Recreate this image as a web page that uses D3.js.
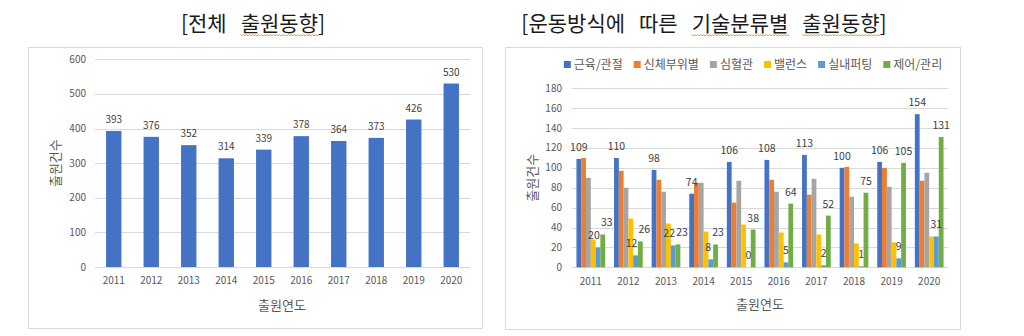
<!DOCTYPE html>
<html><head><meta charset="utf-8">
<script src="https://cdn.jsdelivr.net/npm/d3@7"></script>
<style>
body{margin:0;background:#fff;}
svg{font-family:"Noto Sans CJK KR","Noto Sans",sans-serif;display:block;}
</style></head><body>
<svg id="c" width="1024" height="336"></svg>
<script>
// ---------- data ----------
const years = ["2011","2012","2013","2014","2015","2016","2017","2018","2019","2020"];
const totalFilings = [393,376,352,314,339,378,364,373,426,530];
const totalTicks = [0,100,200,300,400,500,600];

const techCategories = ["근육/관절","신체부위별","심혈관","밸런스","실내퍼팅","제어/관리"];
const muscleJoint   = [109,110,98,74,106,108,113,100,106,154];
const bodyPart      = [110,97,88,85,65,88,73,101,100,87];
const cardio        = [90,80,76,85,87,76,89,71,81,95];
const balance       = [28,49,44,36,43,35,33,24,25,31];
const indoorPutting = [20,12,22,8,0,5,2,1,9,31];
const controlMgmt   = [33,26,23,23,38,64,52,75,105,131];
const techTicks = [0,20,40,60,80,100,120,140,160,180];
const labeledCategories = ["근육/관절","실내퍼팅","제어/관리"];

const leftTitleWords = ["[전체","출원동향]"];
const rightTitleWords = ["[운동방식에","따른","기술분류별","출원동향]"];
const leftUnderlined = ["출원동향]"];
const rightUnderlined = ["기술분류별","출원동향]"];
const yTitle = "출원건수";
const xTitle = "출원연도";

// ---------- styling ----------
const colors = ["#4472C4","#ED7D31","#A5A5A5","#FFC000","#5B9BD5","#70AD47"];
const techSeries = [muscleJoint,bodyPart,cardio,balance,indoorPutting,controlMgmt];
const grid = "#d9d9d9", tickCol = "#595959", labelCol = "#404040";

const svg = d3.select("#c");

// panels
svg.append("rect").attr("x",28.5).attr("y",47.5).attr("width",454).attr("height",281)
  .attr("fill","#fff").attr("stroke","#d9d9d9");
svg.append("rect").attr("x",505.5).attr("y",47.5).attr("width",455).attr("height",282)
  .attr("fill","#fff").attr("stroke","#d9d9d9");

// titles: each word a text element, laid out by measured width
function title(words, underlined, cx) {
  const gap = 14;
  const g = svg.append("g");
  const nodes = words.map(w => g.append("text").attr("y",31).attr("font-size",21)
    .attr("fill","#1a1a1a").text(w));
  const widths = nodes.map(n => n.node().getComputedTextLength());
  const total = d3.sum(widths) + gap*(words.length-1);
  let x = cx - total/2;
  nodes.forEach((n,i)=>{
    n.attr("x", x);
    if (underlined.includes(words[i])) {
      const w = words[i];
      const core = w.replace(/[\[\]]/g,"");
      const startOff = w.startsWith("[") ? n.node().getSubStringLength(0,1) : 0;
      const len = n.node().getSubStringLength(w.startsWith("[")?1:0, core.length);
      const s = x + startOff, e = s + len;
      const p = d3.path();
      const y0 = 34.5;
      p.moveTo(s, y0);
      let k = 0;
      for (let xx = s; xx < e; xx += 1.5, k++) p.lineTo(xx+1.5, y0 + (k%2 ? 0 : 1.5));
      g.append("path").attr("d", p.toString()).attr("fill","none")
        .attr("stroke","#d99a4e").attr("stroke-width",1);
    }
    x += widths[i] + gap;
  });
}
title(leftTitleWords, leftUnderlined, 253);
title(rightTitleWords, rightUnderlined, 704);

// ---------- left chart ----------
{
  const L = {x0:95, x1:470, y0:267, y1:59.3};
  const x = d3.scaleBand().domain(years).range([L.x0,L.x1]).paddingInner(0.59).paddingOuter(0.295);
  const y = d3.scaleLinear().domain([0,600]).range([L.y0,L.y1]);
  const g = svg.append("g");
  g.selectAll(".gl").data(totalTicks).join("line")
    .attr("x1",L.x0).attr("x2",L.x1).attr("y1",d=>Math.round(y(d))+0.5).attr("y2",d=>Math.round(y(d))+0.5)
    .attr("stroke",grid).attr("stroke-width",1);
  g.selectAll(".yt").data(totalTicks).join("text")
    .attr("x",86).attr("y",d=>y(d)).attr("dy","0.35em").attr("text-anchor","end")
    .attr("font-size",10).attr("fill",tickCol).text(d=>d);
  g.selectAll(".bar").data(totalFilings).join("rect")
    .attr("x",(d,i)=>x(years[i])).attr("width",x.bandwidth())
    .attr("y",d=>y(d)).attr("height",d=>y(0)-y(d)).attr("fill",colors[0]);
  g.selectAll(".lb").data(totalFilings).join("text")
    .attr("x",(d,i)=>x(years[i])+x.bandwidth()/2).attr("y",d=>y(d)-8)
    .attr("text-anchor","middle").attr("font-size",10).attr("fill",labelCol).text(d=>d);
  g.selectAll(".xt").data(years).join("text")
    .attr("x",d=>x(d)+x.bandwidth()/2).attr("y",284).attr("text-anchor","middle")
    .attr("font-size",10).attr("fill",tickCol).text(d=>d);
  g.append("text").attr("x",282).attr("y",310).attr("text-anchor","middle")
    .attr("font-size",13).attr("fill",tickCol).text(xTitle);
  g.append("text").attr("transform",`translate(55,${(L.y0+L.y1)/2}) rotate(-90)`)
    .attr("text-anchor","middle").attr("dy","0.35em")
    .attr("font-size",13).attr("fill",tickCol).text(yTitle);
}

// ---------- right chart ----------
{
  const R = {x0:572, x1:948, y0:267.3, y1:88.3};
  const x0 = d3.scaleBand().domain(years).range([R.x0,R.x1]).paddingInner(0.237).paddingOuter(0.1185);
  const x1 = d3.scaleBand().domain(techCategories).range([0,x0.bandwidth()]).padding(0);
  const y = d3.scaleLinear().domain([0,180]).range([R.y0,R.y1]);
  const g = svg.append("g");
  g.selectAll(".gl").data(techTicks).join("line")
    .attr("x1",R.x0).attr("x2",R.x1).attr("y1",d=>Math.round(y(d))+0.5).attr("y2",d=>Math.round(y(d))+0.5)
    .attr("stroke",grid).attr("stroke-width",1);
  g.selectAll(".yt").data(techTicks).join("text")
    .attr("x",562).attr("y",d=>y(d)).attr("dy","0.35em").attr("text-anchor","end")
    .attr("font-size",10).attr("fill",tickCol).text(d=>d);

  const flat = [];
  years.forEach((yr,i)=> techCategories.forEach((c,j)=> flat.push({yr,c,j,v:techSeries[j][i]})));
  g.selectAll(".bar").data(flat).join("rect")
    .attr("x",d=>x0(d.yr)+x1(d.c)).attr("width",x1.bandwidth())
    .attr("y",d=>y(d.v)).attr("height",d=>y(0)-y(d.v)).attr("fill",d=>colors[d.j]);
  const labels = g.selectAll(".lb").data(flat.filter(d=>labeledCategories.includes(d.c))).join("text")
    .attr("x",d=>x0(d.yr)+x1(d.c)+x1.bandwidth()/2).attr("y",d=>y(d.v)-8)
    .attr("text-anchor","middle").attr("font-size",10.5).attr("fill",labelCol).text(d=>d.v);

  // simple collision resolution between neighbouring labels of a year group
  years.forEach(yr=>{
    const ls = labels.filter(d=>d.yr===yr).nodes();
    for (let a=0; a<ls.length-1; a++) {
      const A = ls[a], B = ls[a+1];
      const ba = A.getBBox(), bb = B.getBBox();
      const vOverlap = ba.y < bb.y+bb.height && bb.y < ba.y+ba.height;
      const hOver = (ba.x+ba.width) - bb.x + 1;
      if (vOverlap && hOver > 0) {
        A.setAttribute("x", +A.getAttribute("x") - hOver/2);
        B.setAttribute("x", +B.getAttribute("x") + hOver/2);
      }
    }
  });

  g.selectAll(".xt").data(years).join("text")
    .attr("x",d=>x0(d)+x0.bandwidth()/2).attr("y",285).attr("text-anchor","middle")
    .attr("font-size",10).attr("fill",tickCol).text(d=>d);
  g.append("text").attr("x",760).attr("y",309).attr("text-anchor","middle")
    .attr("font-size",13).attr("fill",tickCol).text(xTitle);
  g.append("text").attr("transform",`translate(532,${(R.y0+R.y1)/2}) rotate(-90)`)
    .attr("text-anchor","middle").attr("dy","0.35em")
    .attr("font-size",13).attr("fill",tickCol).text(yTitle);

  // legend
  const lg = g.append("g");
  let cx = 0;
  techCategories.forEach((c,j)=>{
    const it = lg.append("g");
    it.append("rect").attr("x",0).attr("y",-4).attr("width",7).attr("height",7).attr("fill",colors[j]);
    const t = it.append("text").attr("x",10).attr("y",0).attr("dy","0.35em")
      .attr("font-size",12).attr("fill",tickCol).text(c);
    const w = 10 + t.node().getComputedTextLength();
    it.attr("transform",`translate(${cx},0)`);
    cx += w + 11;
  });
  const total = cx - 11;
  lg.attr("transform",`translate(${753 - total/2},65)`);
}
</script>
</body></html>
